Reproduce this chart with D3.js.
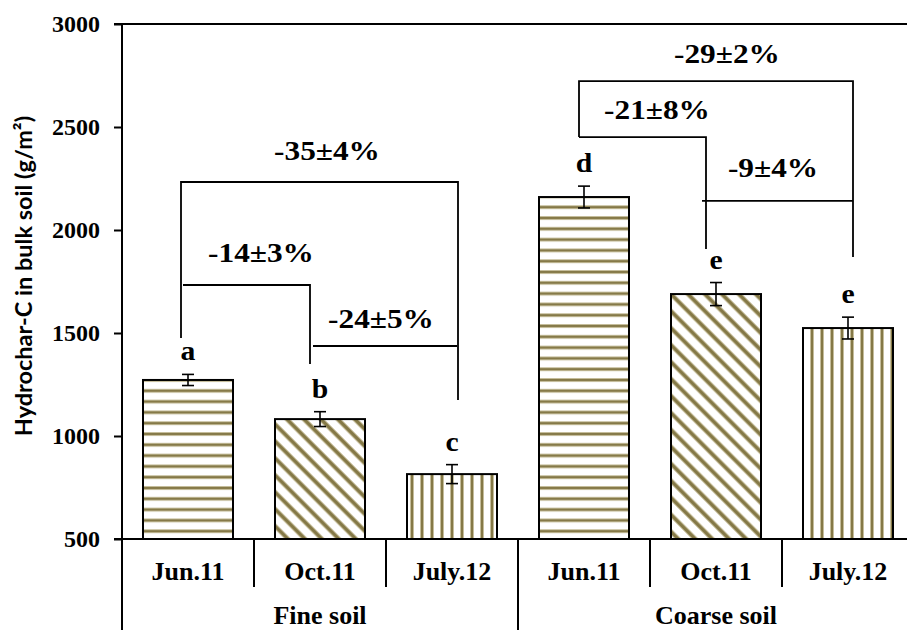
<!DOCTYPE html>
<html>
<head>
<meta charset="utf-8">
<script src="https://cdn.jsdelivr.net/npm/d3@7"></script>
<style>
  html, body { margin: 0; padding: 0; background: #fff; }
  svg { display: block; }
</style>
</head>
<body>
<svg id="chart" width="907" height="630"></svg>
<script>
// Hydrochar-C stocks in bulk soil for two soil textures at three sampling dates
const groups = ["Fine soil", "Coarse soil"];
const dates = ["Jun.11", "Oct.11", "July.12"];
const fineValues = [1272, 1082, 815];
const fineErrors = [27, 36, 46];
const coarseValues = [2160, 1689, 1524];
const coarseErrors = [53, 56, 53];
const letters = ["a", "b", "c", "d", "e", "e"];
const yTicks = [500, 1000, 1500, 2000, 2500, 3000];
const patterns = ["horiz", "diag", "vert"];

// Relative changes between dates: label, bracket path [category, pixel shift, value], label anchor
const changes = [
  { label: "-35±4%", path: [[0, -7, 1476], [0, -7, 2233], [2, 6, 2233], [2, 6, 1175]], at: [1.053, 2340] },
  { label: "-14±3%", path: [[0, -5, 1733], [1, -10, 1733], [1, -10, 1350]], at: [0.553, 1845] },
  { label: "-24±5%", path: [[1, -7, 1437], [2, 5, 1437]], at: [1.462, 1524] },
  { label: "-29±2%", path: [[3, -5, 2451], [3, -5, 2723], [5, 5, 2723], [5, 5, 1869]], at: [4.083, 2811] },
  { label: "-21±8%", path: [[3, -5, 2451], [4, -10, 2451], [4, -10, 1908]], at: [3.553, 2539] },
  { label: "-9±4%", path: [[4, -14, 2141], [5, 5, 2141]], at: [4.432, 2257] }
];

(function draw() {
  const rows = [];
  groups.forEach((g, gi) => {
    const vals = gi === 0 ? fineValues : coarseValues;
    const errs = gi === 0 ? fineErrors : coarseErrors;
    dates.forEach((d, di) => {
      rows.push({ key: gi * 3 + di, group: g, date: d, value: vals[di], err: errs[di], pattern: patterns[di] });
    });
  });

  const svg = d3.select("#chart");
  const mLeft = 122, mBottom = 539, mTop = 24, step = 132;
  const mRight = mLeft + step * rows.length;
  const serif = "'Liberation Serif', 'Times New Roman', serif";

  const x = d3.scaleBand()
    .domain(rows.map(r => r.key))
    .range([mLeft, mRight])
    .paddingInner(42 / 132)
    .paddingOuter(21 / 132);
  const y = d3.scaleLinear().domain([500, 3000]).range([mBottom, mTop]);
  const cx = k => x(k) + x.bandwidth() / 2;

  // Stripe fills
  const defs = svg.append("defs");
  const dark = "#857947", light = "#c6be9c";
  function stripe(id, w, h, horizontal, rotate) {
    const p = defs.append("pattern").attr("id", id)
      .attr("patternUnits", "userSpaceOnUse").attr("width", w).attr("height", h);
    if (rotate) p.attr("patternTransform", `rotate(${rotate})`);
    p.append("rect").attr("width", w).attr("height", h).attr("fill", "#fff");
    if (horizontal) {
      p.append("rect").attr("x", 0).attr("y", 0).attr("width", w).attr("height", 4).attr("fill", light);
      p.append("rect").attr("x", 0).attr("y", 1).attr("width", w).attr("height", 2).attr("fill", dark);
    } else {
      p.append("rect").attr("x", 0).attr("y", 0).attr("width", rotate ? 5 : 4).attr("height", h).attr("fill", light);
      p.append("rect").attr("x", 1).attr("y", 0).attr("width", rotate ? 3 : 2).attr("height", h).attr("fill", dark);
    }
  }
  stripe("horiz", 10, 10.8, true, 0);
  stripe("vert", 10, 10, false, 0);
  stripe("diag", 12, 12, false, -45);

  // Bars
  svg.append("g").selectAll("rect").data(rows).join("rect")
    .attr("x", d => x(d.key))
    .attr("y", d => y(d.value))
    .attr("width", x.bandwidth())
    .attr("height", d => y(500) - y(d.value))
    .attr("fill", d => `url(#${d.pattern})`)
    .attr("stroke", "#000")
    .attr("stroke-width", 2);

  // Error bars
  const eb = svg.append("g").attr("stroke", "#000").attr("stroke-width", 1.6);
  rows.forEach(d => {
    const c = cx(d.key);
    eb.append("line").attr("x1", c).attr("x2", c).attr("y1", y(d.value + d.err)).attr("y2", y(d.value - d.err));
    eb.append("line").attr("x1", c - 6).attr("x2", c + 6).attr("y1", y(d.value + d.err)).attr("y2", y(d.value + d.err));
    eb.append("line").attr("x1", c - 6).attr("x2", c + 6).attr("y1", y(d.value - d.err)).attr("y2", y(d.value - d.err));
  });

  // Significance letters
  svg.append("g").selectAll("text").data(rows).join("text")
    .attr("transform", d => `translate(${cx(d.key)},${y(d.value + d.err) - 14}) scale(1.1,1)`)
    .attr("text-anchor", "middle")
    .attr("font-family", serif)
    .attr("font-weight", "bold")
    .attr("font-size", 27)
    .text((d, i) => letters[i]);

  // Y axis
  const yAxis = svg.append("g").attr("transform", `translate(${mLeft},0)`)
    .call(d3.axisLeft(y).tickValues(yTicks).tickSize(8).tickPadding(14).tickFormat(d3.format("d")));
  yAxis.select(".domain").remove();
  yAxis.selectAll(".tick line").attr("stroke", "#000").attr("stroke-width", 2);
  yAxis.selectAll(".tick text")
    .attr("font-family", serif)
    .attr("font-weight", "bold").attr("font-size", 24).attr("fill", "#000");

  const axes = svg.append("g").attr("stroke", "#000").attr("stroke-width", 2);
  axes.append("line").attr("x1", mLeft).attr("x2", mLeft).attr("y1", mTop).attr("y2", 630);
  axes.append("line").attr("x1", mLeft - 8).attr("x2", mRight).attr("y1", y(3000)).attr("y2", y(3000));
  axes.append("line").attr("x1", mLeft - 8).attr("x2", mRight).attr("y1", y(500)).attr("y2", y(500));

  // Category separators: short between dates, long between soil groups
  d3.range(1, rows.length + 1).forEach(i => {
    const xs = mLeft + i * x.step();
    const long = i % dates.length === 0;
    axes.append("line").attr("x1", xs).attr("x2", xs)
      .attr("y1", mBottom).attr("y2", long ? 630 : 587);
  });

  svg.append("g").selectAll("text").data(rows).join("text")
    .attr("x", d => cx(d.key)).attr("y", 580)
    .attr("text-anchor", "middle")
    .attr("font-family", serif).attr("font-weight", "bold").attr("font-size", 26)
    .text(d => d.date);

  svg.append("g").selectAll("text").data(groups).join("text")
    .attr("x", (g, gi) => mLeft + (gi * 3 + 1.5) * x.step())
    .attr("y", 624)
    .attr("text-anchor", "middle")
    .attr("font-family", serif).attr("font-weight", "bold").attr("font-size", 26)
    .text(g => g);

  // Y axis title
  svg.append("text")
    .attr("transform", `translate(32,276) rotate(-90)`)
    .attr("text-anchor", "middle")
    .attr("font-family", "Lato, 'Open Sans', sans-serif")
    .attr("font-weight", "bold").attr("font-size", 23.5)
    .text("Hydrochar-C in bulk soil (g/m²)");

  // Change brackets and labels
  const px = (ci, dx) => cx(ci) + dx;
  const ann = svg.append("g");
  changes.forEach(c => {
    ann.append("path")
      .attr("d", d3.line()(c.path.map(p => [px(p[0], p[1]), y(p[2])])))
      .attr("fill", "none").attr("stroke", "#000").attr("stroke-width", 1.8);
    ann.append("text")
      .attr("transform", `translate(${mLeft + (c.at[0] + 0.5) * x.step()},${y(c.at[1])}) scale(1.16,1)`)
      .attr("text-anchor", "middle")
      .attr("font-family", serif).attr("font-weight", "bold").attr("font-size", 27)
      .text(c.label);
  });
})();
</script>
</body>
</html>
